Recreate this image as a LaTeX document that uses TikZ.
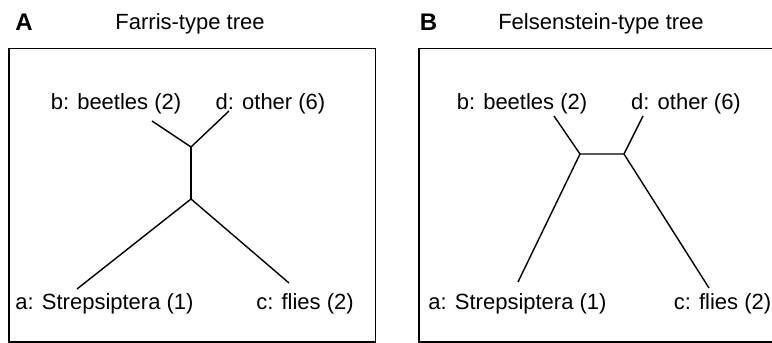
\documentclass[tikz,border=0pt]{standalone}
\usepackage{fontspec}
\setmainfont{Liberation Sans}
\begin{document}
\begin{tikzpicture}[x=1pt,y=-1pt,
  lbl/.style={inner sep=0pt, font=\fontsize{22}{26}\selectfont},
  panel/.style={inner sep=0pt, font=\fontsize{24}{28}\selectfont\bfseries},
  frame/.style={draw=black, line width=1.8pt},
  branch/.style={draw=black, line width=1.4pt}]
\useasboundingbox (0,0) rectangle (772,343);
\clip (0,0) rectangle (772,343);

% ---- Panel A: Farris-type tree ----
\node[panel] (pA) at (24,22.5) {A};
\node[lbl] (tA) at (190,24) {Farris-type tree};
\draw[frame] (9,48.5) rectangle (375.5,342);

\node[lbl] (Ab) at (116,104) {b: beetles (2)};
\node[lbl] (Ad) at (270.5,104) {d: other (6)};
\node[lbl] (Aa) at (104.5,304) {a: Strepsiptera (1)};
\node[lbl] (Ac) at (305,304) {c: flies (2)};

\coordinate (Ab0) at (152,121);
\coordinate (Ad0) at (229,111);
\coordinate (Aa0) at (77,289);
\coordinate (Ac0) at (289,283);
\coordinate (Aup) at (191,147);
\coordinate (Alo) at (191,199);

\draw[branch] (Ab0) -- (Aup) -- (Ad0);
\draw[branch] (Aup) -- (Alo);
\draw[branch] (Aa0) -- (Alo) -- (Ac0);

% ---- Panel B: Felsenstein-type tree ----
\node[panel] (pB) at (428.5,22.5) {B};
\node[lbl] (tB) at (601,24) {Felsenstein-type tree};
\draw[frame] (419,48.5) rectangle (785,342);

\node[lbl] (Bb) at (522,104) {b: beetles (2)};
\node[lbl] (Bd) at (686,104) {d: other (6)};
\node[lbl] (Ba) at (517.5,304) {a: Strepsiptera (1)};
\node[lbl] (Bc) at (722.5,304) {c: flies (2)};

\coordinate (Bb0) at (554,116);
\coordinate (Bd0) at (643,116);
\coordinate (Ba0) at (518,282);
\coordinate (Bc0) at (709,288);
\coordinate (Bl) at (580,154);
\coordinate (Br) at (624,154);

\draw[branch] (Bb0) -- (Bl) -- (Br) -- (Bd0);
\draw[branch] (Bl) -- (Ba0);
\draw[branch] (Br) -- (Bc0);
\end{tikzpicture}
\end{document}
